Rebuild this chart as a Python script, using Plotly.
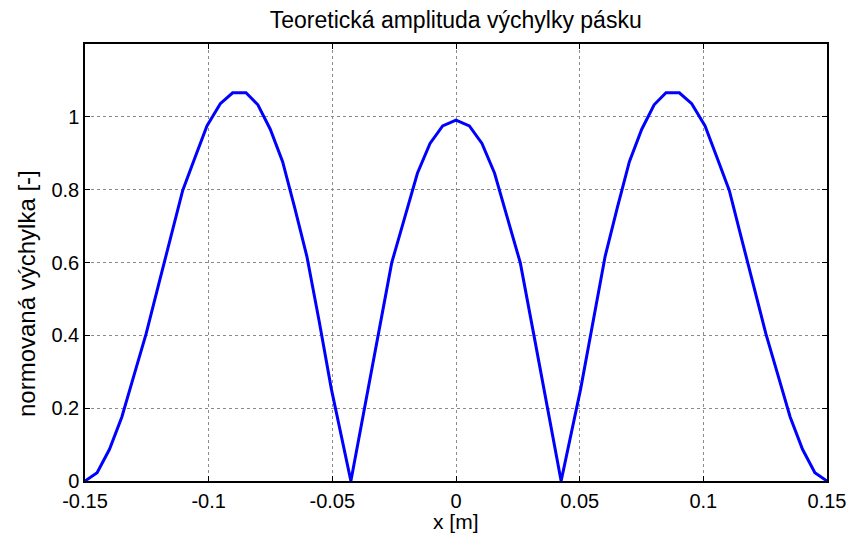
import plotly.graph_objects as go

# Data
x_m = [-0.1500, -0.1451, -0.1401, -0.1351, -0.1302, -0.1253, -0.1204, -0.1154, -0.1105, -0.1056,
       -0.1007, -0.0953, -0.0903, -0.0849, -0.0801, -0.0751, -0.0701, -0.0652, -0.0603, -0.0553,
       -0.0504, -0.0425, -0.0369, -0.0314, -0.0260, -0.0208, -0.0156, -0.0105, -0.0054, 0.0,
       0.0054, 0.0105, 0.0156, 0.0208, 0.0260, 0.0314, 0.0369, 0.0425, 0.0504, 0.0553,
       0.0603, 0.0652, 0.0701, 0.0751, 0.0801, 0.0849, 0.0903, 0.0953, 0.1007, 0.1056,
       0.1105, 0.1154, 0.1204, 0.1253, 0.1302, 0.1351, 0.1401, 0.1451, 0.1500]
amplitude = [0, 0.023, 0.087, 0.176, 0.29, 0.404, 0.535, 0.667, 0.798, 0.887,
             0.975, 1.036, 1.066, 1.066, 1.033, 0.966, 0.877, 0.75, 0.617, 0.438,
             0.253, 0, 0.202, 0.404, 0.599, 0.722, 0.845, 0.927, 0.975, 0.991,
             0.975, 0.927, 0.845, 0.722, 0.599, 0.404, 0.202, 0, 0.253, 0.438,
             0.617, 0.75, 0.877, 0.966, 1.033, 1.066, 1.066, 1.036, 0.975, 0.887,
             0.798, 0.667, 0.535, 0.404, 0.29, 0.176, 0.087, 0.023, 0]

x_ticks = [-0.15, -0.1, -0.05, 0, 0.05, 0.1, 0.15]
x_tick_labels = ["-0.15", "-0.1", "-0.05", "0", "0.05", "0.1", "0.15"]
y_ticks = [0, 0.2, 0.4, 0.6, 0.8, 1.0]
y_tick_labels = ["0", "0.2", "0.4", "0.6", "0.8", "1"]

title_text = "Teoretická amplituda výchylky pásku"
x_label = "x [m]"
y_label = "normovaná výchylka [-]"

FONT = "Liberation Sans, Arial, sans-serif"

fig = go.Figure()
fig.add_trace(go.Scatter(x=x_m, y=amplitude, mode="lines",
                         line=dict(color="#0000FF", width=3), showlegend=False))

axis_common = dict(
    showline=True, linecolor="black", linewidth=1.5, mirror="allticks",
    ticks="inside", ticklen=5, tickwidth=1.2, tickcolor="black",
    showgrid=True, gridcolor="#8a8a8a", gridwidth=1, griddash="dot",
    zeroline=False, automargin=False,
    tickfont=dict(family=FONT, size=20, color="black"),
)

fig.update_xaxes(range=[-0.15, 0.15], tickvals=x_ticks, ticktext=x_tick_labels,
                 ticklabelstandoff=1,
                 **axis_common)
fig.update_yaxes(range=[0, 1.2], tickvals=y_ticks, ticktext=y_tick_labels,
                 **axis_common)

# axis labels placed as text, matching the reference positions
fig.add_annotation(text=x_label, xref="paper", yref="paper",
                   x=(456 - 85) / 742, y=(481 - 521) / 437,
                   xanchor="center", yanchor="middle", showarrow=False,
                   font=dict(family=FONT, size=21, color="black"))
fig.add_annotation(text=y_label, xref="paper", yref="paper",
                   x=(26 - 85) / 742, y=(481 - 294) / 437,
                   xanchor="center", yanchor="middle", textangle=-90, showarrow=False,
                   font=dict(family=FONT, size=24, color="black"))

fig.update_layout(
    width=851, height=536,
    margin=dict(l=85, r=24, t=44, b=55),
    paper_bgcolor="white", plot_bgcolor="white",
    title=dict(text=title_text, x=0.5355, xanchor="center", y=0.962, yanchor="middle",
               font=dict(family=FONT, size=23, color="black")),
)

fig.write_html("out.html")
